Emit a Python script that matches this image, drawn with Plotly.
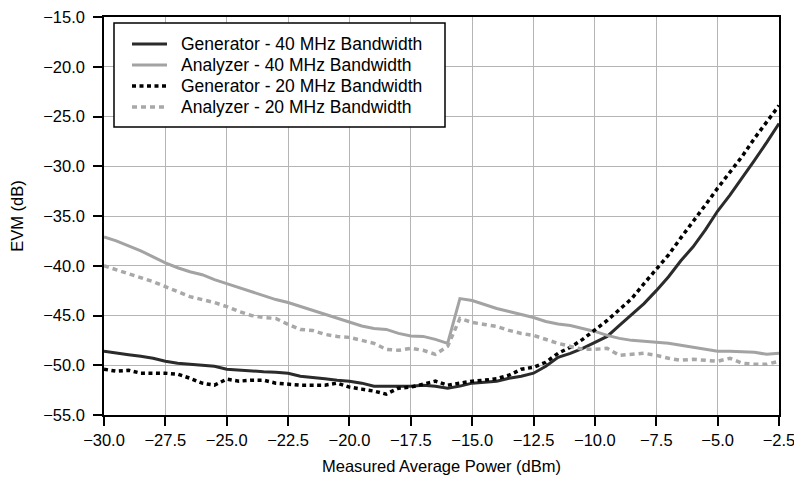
import plotly.graph_objects as go

# measured average power (dBm)
power = [-30.0, -29.5, -29.0, -28.5, -28.0, -27.5, -27.0, -26.5, -26.0, -25.5,
         -25.0, -24.5, -24.0, -23.5, -23.0, -22.5, -22.0, -21.5, -21.0, -20.5,
         -20.0, -19.5, -19.0, -18.5, -18.0, -17.5, -17.0, -16.5, -16.0, -15.5,
         -15.0, -14.5, -14.0, -13.5, -13.0, -12.5, -12.0, -11.5, -11.0, -10.5,
         -10.0, -9.5, -9.0, -8.5, -8.0, -7.5, -7.0, -6.5, -6.0, -5.5,
         -5.0, -4.5, -4.0, -3.5, -3.0, -2.5]

# EVM (dB)
gen_40 = [-48.6, -48.8, -48.95, -49.1, -49.3, -49.6, -49.8, -49.9, -50.0, -50.1,
          -50.4, -50.5, -50.6, -50.65, -50.7, -50.8, -51.1, -51.2, -51.35, -51.5,
          -51.6, -51.8, -52.1, -52.1, -52.1, -52.1, -52.0, -52.1, -52.3, -52.1,
          -51.8, -51.7, -51.6, -51.3, -51.1, -50.8, -50.1, -49.2, -48.8, -48.3,
          -47.7, -47.1, -46.0, -44.9, -43.8, -42.5, -41.1, -39.5, -38.1, -36.4,
          -34.5, -32.9, -31.2, -29.4, -27.6, -25.7]

ana_40 = [-37.1, -37.5, -38.0, -38.5, -39.1, -39.7, -40.2, -40.6, -40.9, -41.4,
          -41.8, -42.2, -42.6, -43.0, -43.4, -43.7, -44.1, -44.5, -44.9, -45.3,
          -45.7, -46.05, -46.3, -46.4, -46.8, -47.05, -47.1, -47.4, -47.8, -43.3,
          -43.5, -43.9, -44.3, -44.6, -44.9, -45.2, -45.6, -45.85, -46.0, -46.3,
          -46.6, -47.0, -47.3, -47.5, -47.6, -47.7, -47.8, -48.0, -48.2, -48.4,
          -48.6, -48.6, -48.65, -48.7, -48.9, -48.8]

gen_20 = [-50.4, -50.6, -50.5, -50.8, -50.8, -50.8, -50.9, -51.3, -51.8, -52.0,
          -51.4, -51.6, -51.5, -51.5, -51.8, -51.9, -52.0, -52.0, -52.0, -51.8,
          -52.2, -52.4, -52.6, -52.9, -52.3, -52.2, -51.9, -51.6, -52.0, -51.8,
          -51.6, -51.5, -51.35, -51.0, -50.4, -50.2, -49.7, -48.8, -48.2, -47.4,
          -46.5, -45.5, -44.4, -43.3, -41.8, -40.4, -38.9, -37.2, -35.6, -33.9,
          -32.2, -30.6, -29.0, -27.2, -25.5, -23.9]

ana_20 = [-40.0, -40.4, -40.8, -41.2, -41.6, -42.1, -42.6, -43.1, -43.4, -43.7,
          -44.1, -44.6, -45.0, -45.2, -45.3, -45.9, -46.4, -46.5, -46.9, -47.1,
          -47.2, -47.5, -47.8, -48.4, -48.5, -48.3, -48.5, -48.9, -48.1, -45.3,
          -45.7, -45.9, -46.1, -46.5, -46.8, -47.0, -47.4, -47.8, -48.1, -48.4,
          -48.4, -48.3, -49.0, -48.9, -48.8, -49.0, -49.3, -49.5, -49.4, -49.5,
          -49.6, -49.3, -49.8, -49.9, -49.9, -49.6]

x_ticks = [-30.0, -27.5, -25.0, -22.5, -20.0, -17.5, -15.0, -12.5, -10.0, -7.5, -5.0, -2.5]
y_ticks = [-55.0, -50.0, -45.0, -40.0, -35.0, -30.0, -25.0, -20.0, -15.0]

series = [
    ("Generator - 40 MHz Bandwidth", gen_40, dict(color="#2b2b2b", width=3)),
    ("Analyzer - 40 MHz Bandwidth", ana_40, dict(color="#a3a3a3", width=3)),
    ("Generator - 20 MHz Bandwidth", gen_20, dict(color="#000000", width=3.5, dash="4px,3.5px")),
    ("Analyzer - 20 MHz Bandwidth", ana_20, dict(color="#a8a8a8", width=3.5, dash="5px,4px")),
]

fig = go.Figure()
for name, vals, line in series:
    fig.add_trace(go.Scatter(x=power, y=vals, mode="lines", name=name, line=line))

axis_style = dict(
    showline=True, linecolor="black", linewidth=1.5, mirror=True,
    showgrid=True, gridcolor="#b5b5b5", gridwidth=1.4,
    ticks="outside", ticklen=9, tickcolor="black", tickwidth=1.5,
    zeroline=False, tickfont=dict(size=16.5, color="black"),
    automargin=False, ticklabeloverflow="allow",
)

fig.update_xaxes(range=[-30, -2.5], tickvals=x_ticks, tickformat=".1f",
                 title=dict(text="Measured Average Power (dBm)", font=dict(size=16.5), standoff=13),
                 **axis_style)
fig.update_yaxes(range=[-55, -15], tickvals=y_ticks, tickformat=".1f", ticklabelstandoff=5,
                 title=dict(text="EVM (dB)", font=dict(size=16.5), standoff=16),
                 **axis_style)

# legend drawn by hand so the row spacing matches the original (plot area is 675 x 398 px)
W, H = 675, 398
fig.add_shape(type="rect", xref="paper", yref="paper",
              x0=10 / W, x1=341 / W, y0=288 / H, y1=392 / H,
              line=dict(color="black", width=1.5), fillcolor="white", layer="above")
for i, (name, vals, line) in enumerate(series):
    yy = (371 - 21 * i) / H
    fig.add_shape(type="line", xref="paper", yref="paper",
                  x0=28 / W, x1=63 / W, y0=yy, y1=yy, line=line, layer="above")
    fig.add_annotation(text=name, xref="paper", yref="paper", x=75 / W, y=yy,
                       xanchor="left", yanchor="middle", showarrow=False,
                       font=dict(size=17.5))

fig.update_layout(
    width=794, height=474,
    margin=dict(l=96, r=23, t=9, b=67),
    paper_bgcolor="white", plot_bgcolor="white",
    font=dict(family="Liberation Sans, Arial, sans-serif", color="black"),
    showlegend=False,
)

fig.write_html("out.html")
